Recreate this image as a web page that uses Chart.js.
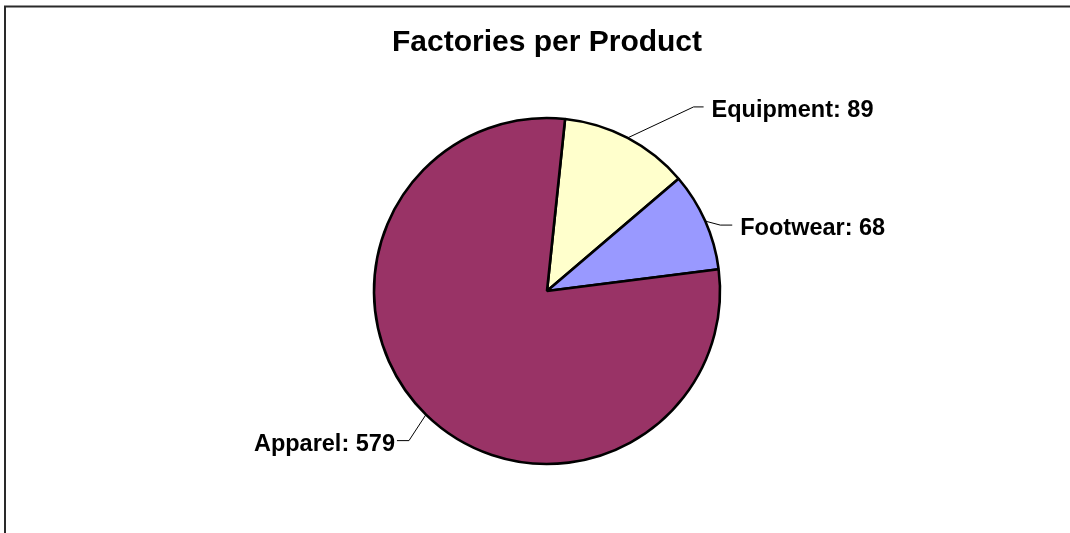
<!DOCTYPE html>
<html>
<head>
<meta charset="utf-8">
<script src="https://cdn.jsdelivr.net/npm/chart.js@4/dist/chart.umd.min.js"></script>
<style>
  html, body { margin: 0; padding: 0; background: #fff; }
  canvas { display: block; }
</style>
</head>
<body>
<canvas id="chart" width="1070" height="533"></canvas>
<script>
/* ---- data ---- */
const categories = ['Equipment', 'Footwear', 'Apparel'];
const factoryCounts = [89, 68, 579];
const sliceColors = ['#FFFFCC', '#9999FF', '#993366'];

/* ---- label placement (leader elbow offset from slice edge, stub direction, text gap) ---- */
const labelLayout = [
  { dx: 66, dy: -31, side: 1, stub: 10, gap: 8 },
  { dx: 15, dy: 4, side: 1, stub: 12, gap: 8 },
  { dx: -17, dy: 26, side: -1, stub: 12, gap: 2 },
];

const FONT = "'Liberation Sans', Arial, Helvetica, sans-serif";

const framePlugin = {
  id: 'frame',
  beforeDraw(chart) {
    const ctx = chart.ctx;
    ctx.save();
    ctx.fillStyle = '#fff';
    ctx.fillRect(0, 0, chart.width, chart.height);
    ctx.strokeStyle = '#2a2a2a';
    ctx.lineWidth = 2;
    ctx.beginPath();
    ctx.moveTo(5, chart.height + 5);
    ctx.lineTo(5, 6.5);
    ctx.lineTo(chart.width + 5, 6.5);
    ctx.stroke();
    ctx.restore();
  },
};

const leaderLabels = {
  id: 'leaderLabels',
  afterDatasetsDraw(chart) {
    const ctx = chart.ctx;
    const arcs = chart.getDatasetMeta(0).data;
    ctx.save();
    ctx.font = `bold 23.5px ${FONT}`;
    ctx.fillStyle = '#000';
    ctx.strokeStyle = '#000';
    ctx.lineWidth = 1;
    arcs.forEach((arc, i) => {
      const { x, y, startAngle, endAngle, outerRadius } = arc.getProps(['x', 'y', 'startAngle', 'endAngle', 'outerRadius'], true);
      const mid = (startAngle + endAngle) / 2;
      const ex = x + Math.cos(mid) * outerRadius;
      const ey = y + Math.sin(mid) * outerRadius;
      const L = labelLayout[i];
      const bx = ex + L.dx, by = ey + L.dy;
      const cx = bx + L.side * L.stub;
      ctx.beginPath();
      ctx.moveTo(ex, ey);
      ctx.lineTo(bx, by);
      ctx.lineTo(cx, by);
      ctx.stroke();
      ctx.textAlign = L.side > 0 ? 'left' : 'right';
      ctx.textBaseline = 'alphabetic';
      ctx.fillText(`${categories[i]}: ${factoryCounts[i]}`, cx + L.side * L.gap, by + 10);
    });
    ctx.restore();
  },
};

new Chart(document.getElementById('chart'), {
  type: 'pie',
  data: {
    labels: categories,
    datasets: [{
      data: factoryCounts,
      backgroundColor: sliceColors,
      borderColor: '#000',
      borderWidth: 2.6,
      borderAlign: 'center',
    }],
  },
  options: {
    responsive: false,
    devicePixelRatio: 1,
    animation: false,
    rotation: 6,
    radius: 173,
    layout: { padding: { left: 24, right: 0, top: 0, bottom: 12 } },
    plugins: {
      legend: { display: false },
      tooltip: { enabled: false },
      title: {
        display: true,
        text: 'Factories per Product',
        color: '#000',
        font: { family: FONT, size: 30, weight: 'bold', lineHeight: 1.2 },
        padding: { top: 25, bottom: 0 },
      },
    },
  },
  plugins: [framePlugin, leaderLabels],
});
</script>
</body>
</html>
